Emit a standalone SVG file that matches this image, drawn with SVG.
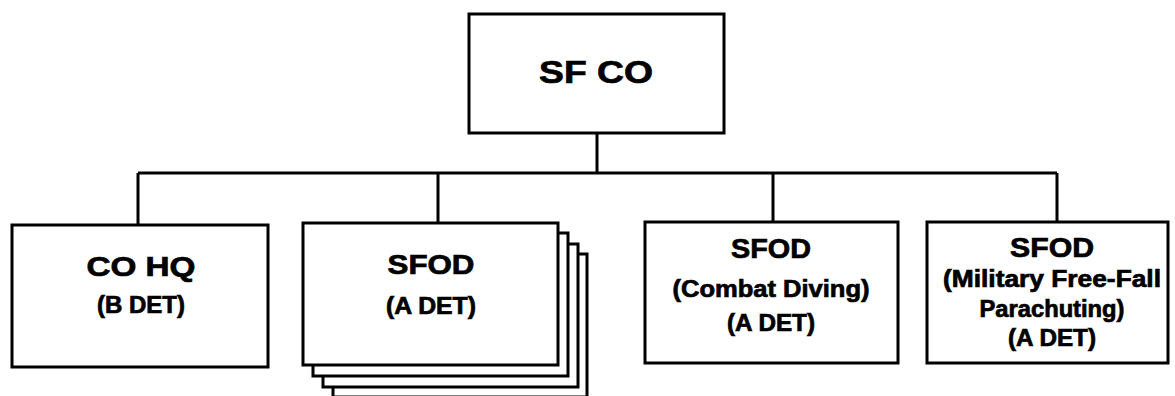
<svg xmlns="http://www.w3.org/2000/svg" width="1175" height="396" viewBox="0 0 1175 396">
<style>
.box{fill:#fff;stroke:#000;stroke-width:3}
.ln{fill:none;stroke:#000;stroke-width:3}
text{font-family:"Liberation Sans",Arial,sans-serif;font-weight:bold;fill:#000;stroke:#000;stroke-width:0.7;text-anchor:middle}
.big{font-size:27px}
.top{font-size:31px}
.sm{font-size:23px}
</style>
<rect width="1175" height="396" fill="#fff"/>
<g id="connectors">
<path class="ln" d="M597,133 V173 M138,173 H1057 M138,173 V225 M438,173 V223 M773,173 V222 M1057,173 V222"/>
</g>
<g id="sf-co">
<rect class="box" x="469" y="14" width="255" height="119"/>
<text class="top" x="596" y="83" textLength="114" lengthAdjust="spacingAndGlyphs">SF CO</text>
</g>
<g id="co-hq">
<rect class="box" x="12" y="225" width="256" height="142"/>
<text class="big" x="141" y="276" textLength="109" lengthAdjust="spacingAndGlyphs">CO HQ</text>
<text class="sm" x="141" y="313" textLength="88" lengthAdjust="spacingAndGlyphs">(B DET)</text>
</g>
<g id="sfod-a">
<rect class="box" x="333" y="254" width="254" height="143"/>
<rect class="box" x="323" y="244" width="255" height="143"/>
<rect class="box" x="313" y="233" width="255" height="143"/>
<rect class="box" x="303" y="223" width="255" height="142"/>
<text class="big" x="431" y="274" textLength="87" lengthAdjust="spacingAndGlyphs">SFOD</text>
<text class="sm" x="431" y="314" textLength="90" lengthAdjust="spacingAndGlyphs">(A DET)</text>
</g>
<g id="sfod-diving">
<rect class="box" x="645" y="222" width="253" height="141"/>
<text class="big" x="771" y="258" textLength="80" lengthAdjust="spacingAndGlyphs">SFOD</text>
<text class="sm" x="771" y="297" textLength="197" lengthAdjust="spacingAndGlyphs">(Combat Diving)</text>
<text class="sm" x="771" y="331" textLength="88" lengthAdjust="spacingAndGlyphs">(A DET)</text>
</g>
<g id="sfod-mff">
<rect class="box" x="927" y="222" width="241" height="141"/>
<text class="big" x="1052" y="257" textLength="84" lengthAdjust="spacingAndGlyphs">SFOD</text>
<text class="sm" x="1052" y="287" textLength="218" lengthAdjust="spacingAndGlyphs">(Military Free-Fall</text>
<text class="sm" x="1052" y="317" textLength="145" lengthAdjust="spacingAndGlyphs">Parachuting)</text>
<text class="sm" x="1052" y="346" textLength="88" lengthAdjust="spacingAndGlyphs">(A DET)</text>
</g>
</svg>
